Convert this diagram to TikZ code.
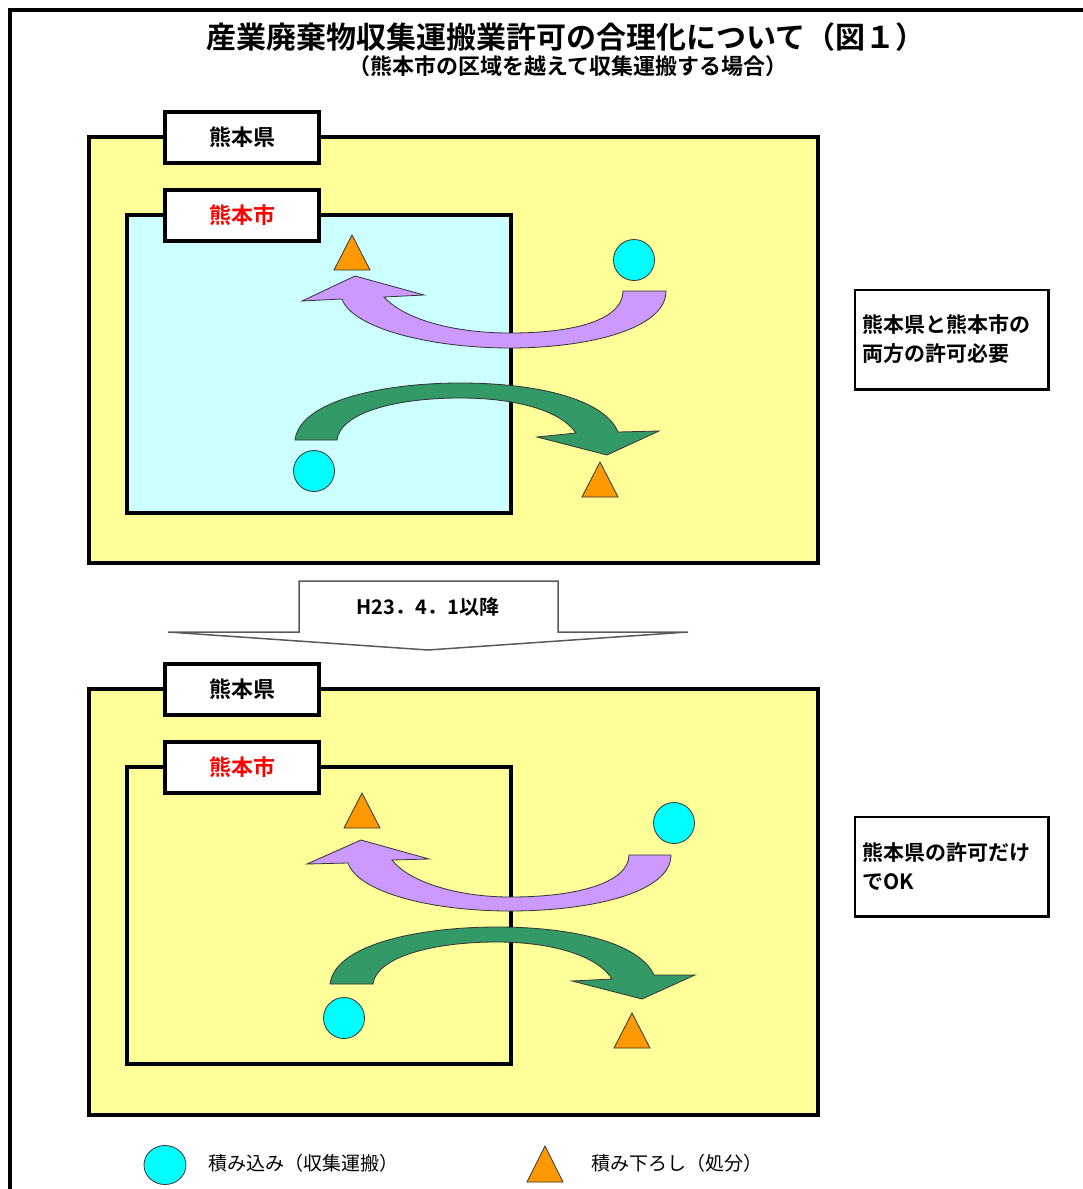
\documentclass[tikz,border=0pt]{standalone}
\usepackage{fontspec}
\setmainfont{Noto Sans CJK JP}[BoldFont={Noto Sans CJK JP Bold}]
\definecolor{kenyellow}{HTML}{FFFF99}
\definecolor{shicyan}{HTML}{CCFFFF}
\definecolor{tsumicyan}{HTML}{00FFFF}
\definecolor{orosiorange}{HTML}{FF9900}
\definecolor{purplearr}{HTML}{CC99FF}
\definecolor{greenarr}{HTML}{339966}
\definecolor{labelred}{HTML}{FF0000}
\newcommand{\tsumikomi}[1]{\draw[tsumi] (#1) circle[radius=20.5pt];}
\newcommand{\tsumiorosi}[1]{\draw[orosi] (#1) -- ++(-18,35) -- ++(36,0) -- cycle;}
\begin{document}
\begin{tikzpicture}[x=1pt,y=-1pt,
    area/.style={draw,line width=4pt},
    labelbox/.style={draw,fill=white,line width=4pt,minimum width=154pt,minimum height=51pt,
      inner sep=0pt,font=\fontsize{22}{26}\selectfont\bfseries},
    notebox/.style={draw,fill=white,line width=1.5pt,minimum width=193pt,minimum height=99pt,
      inner sep=7pt,text width=179pt,align=left,font=\fontsize{21}{29}\selectfont\bfseries},
    tsumi/.style={draw=black!80,line width=0.8pt,fill=tsumicyan},
    orosi/.style={draw=black!80,line width=0.8pt,fill=orosiorange},
    purplearrow/.style={draw=black!80,line width=0.8pt,fill=purplearr},
    greenarrow/.style={draw=black!80,line width=0.8pt,fill=greenarr},
    legendtext/.style={anchor=west,font=\fontsize{19}{22}\selectfont}]
  \useasboundingbox (0,0) rectangle (1083,1189);

  % frame and title
  \draw[line width=4pt] (10,1189) -- (10,10) -- (1083,10);
  \node[font=\fontsize{30}{34}\selectfont\bfseries] (title) at (566,37)
    {産業廃棄物収集運搬業許可の合理化について（図１）};
  \node[font=\fontsize{22}{25}\selectfont\bfseries] (subtitle) at (568,66)
    {（熊本市の区域を越えて収集運搬する場合）};

  % before
  \draw[area,fill=kenyellow] (89,137) rectangle (818,563);
  \node[labelbox] (ken1) at (242,137.5) {熊本県};
  \draw[area,fill=shicyan] (127,215) rectangle (511,513);
  \node[labelbox,text=labelred] (shi1) at (242,215) {熊本市};

  \draw[purplearrow] (623,291) -- (666,291) .. controls (666,330) and (585,348) .. (510,348)
    .. controls (430,348) and (352,328) .. (342,299) -- (302,301) -- (355,276) -- (424,295)
    -- (384,297) .. controls (405,320) and (455,333) .. (510,333)
    .. controls (580,333) and (623,318) .. (623,291) -- cycle;
  \draw[greenarrow] (295,440) .. controls (300,400) and (385,383) .. (460,383)
    .. controls (540,383) and (605,400) .. (618,432) -- (659,431) -- (607,455) -- (537,437)
    -- (576,433) .. controls (560,410) and (515,398) .. (460,398)
    .. controls (395,398) and (340,413) .. (337,440) -- cycle;
  \tsumiorosi{352,235}
  \tsumiorosi{600,462}
  \tsumikomi{634,260}
  \tsumikomi{314,471}

  \node[notebox] (note1) at (951.5,339.5) {熊本県と熊本市の\\両方の許可必要};
  \draw[line width=3pt] (note1.north east) -- (note1.south east) -- (note1.south west);

  % change
  \draw[draw=black!65,line width=1.5pt,line join=miter] (299,632) -- (299,581) -- (558,581)
    -- (558,632) -- (688,632) -- (428,650) -- (168,632) -- cycle;
  \node[font=\fontsize{20}{24}\selectfont\bfseries] (date) at (428,607) {H23．4．1以降};

  % after
  \draw[area,fill=kenyellow] (89,689) rectangle (818,1115);
  \node[labelbox] (ken2) at (242,689) {熊本県};
  \draw[area] (127,767) rectangle (511,1064);
  \node[labelbox,text=labelred] (shi2) at (242,767) {熊本市};

  \draw[purplearrow] (629,855) -- (671,855) .. controls (671,893) and (590,911) .. (510,911)
    .. controls (430,911) and (358,892) .. (348,863) -- (307,864) -- (361,840) -- (429,859)
    -- (392,860) .. controls (410,883) and (460,897) .. (510,897)
    .. controls (585,897) and (629,880) .. (629,855) -- cycle;
  \draw[greenarrow] (330,984) .. controls (335,944) and (420,927) .. (497,927)
    .. controls (577,927) and (640,944) .. (654,975) -- (695,975) -- (642,999) -- (572,981)
    -- (612,979) .. controls (597,955) and (550,942) .. (497,942)
    .. controls (430,942) and (376,958) .. (373,984) -- cycle;
  \tsumiorosi{362,793}
  \tsumiorosi{632,1013}
  \tsumikomi{674,823}
  \tsumikomi{344,1018}

  \node[notebox] (note2) at (951.5,866.5) {熊本県の許可だけ\\でOK};
  \draw[line width=3pt] (note2.north east) -- (note2.south east) -- (note2.south west);

  % legend
  \draw[tsumi] (165,1165) ellipse[x radius=21pt,y radius=19.5pt];
  \node[legendtext] (legend1) at (205,1163) {積み込み（収集運搬）};
  \draw[orosi] (545,1146) -- (563,1182) -- (527,1182) -- cycle;
  \node[legendtext] (legend2) at (588,1163) {積み下ろし（処分）};
\end{tikzpicture}
\end{document}
